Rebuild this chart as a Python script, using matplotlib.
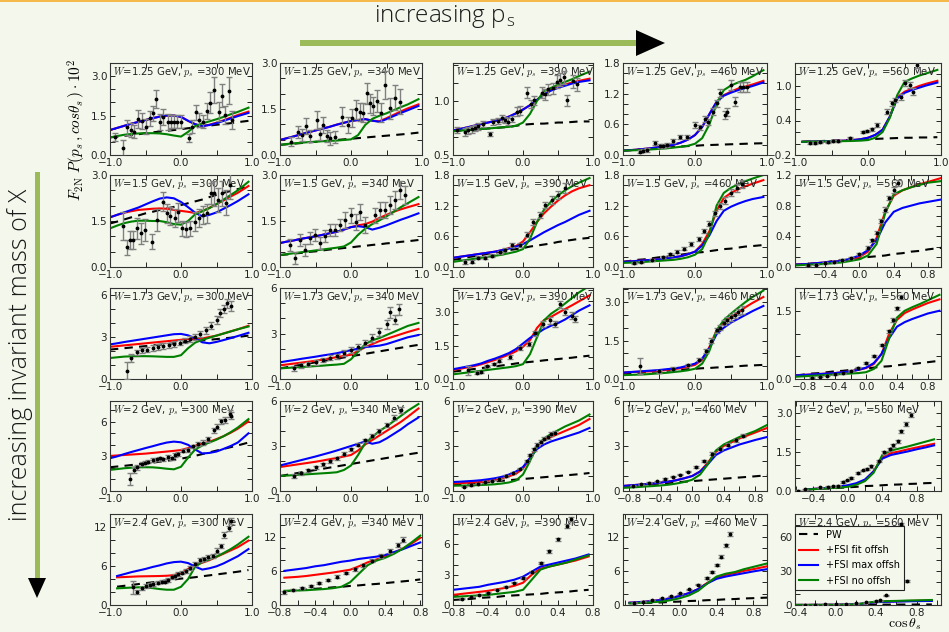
import matplotlib
matplotlib.use('Agg')
import matplotlib.pyplot as plt
from matplotlib.lines import Line2D
from matplotlib.patches import Polygon, Rectangle
from matplotlib.ticker import FixedLocator, MultipleLocator, AutoMinorLocator, FuncFormatter

# panel labels: rows = invariant mass W, columns = spectator momentum p_s
W_VALUES = ['1.25', '1.5', '1.73', '2', '2.4']
PS_VALUES = ['300', '340', '390', '460', '560']

# cos(theta_s) grids on which the model curves are tabulated
COS_A = [-1.0, -0.9, -0.8, -0.7, -0.6, -0.5, -0.4, -0.3, -0.2, -0.1, 0.0, 0.1, 0.2, 0.3, 0.4, 0.5, 0.6, 0.7, 0.8, 0.95]
COS_A9 = [-0.9, -0.8, -0.7, -0.6, -0.5, -0.4, -0.3, -0.2, -0.1, 0.0, 0.1, 0.2, 0.3, 0.4, 0.5, 0.6, 0.7, 0.8, 0.95]
COS_B = [-0.75, -0.6, -0.5, -0.4, -0.3, -0.2, -0.1, 0.0, 0.1, 0.2, 0.3, 0.4, 0.5, 0.6, 0.7, 0.8, 0.95]
COS_C = [-0.55, -0.4, -0.3, -0.2, -0.1, 0.0, 0.1, 0.2, 0.3, 0.4, 0.5, 0.6, 0.7, 0.8, 0.95]
COS_E = [-0.475, -0.4, -0.3, -0.2, -0.1, 0.0, 0.1, 0.2, 0.3, 0.4, 0.5, 0.6, 0.7, 0.8, 0.9, 1.0]
COS_F = [-0.75, -0.6, -0.5, -0.4, -0.3, -0.2, -0.1, 0.0, 0.1, 0.2, 0.3, 0.4, 0.5, 0.6, 0.7, 0.8]
COS_G = [-0.8, -0.7, -0.6, -0.5, -0.4, -0.3, -0.2, -0.1, 0.0, 0.1, 0.2, 0.3, 0.4, 0.5, 0.6, 0.75]
COS_H = [-0.4, -0.3, -0.2, -0.1, 0.0, 0.1, 0.2, 0.3, 0.4, 0.5, 0.6, 0.7, 0.8, 0.95]

curve_grid = {
    (0, 0): COS_A, (0, 1): COS_A, (0, 2): COS_A, (0, 3): COS_A, (0, 4): COS_A9,
    (1, 0): COS_A, (1, 1): COS_A, (1, 2): COS_A, (1, 3): COS_A, (1, 4): COS_B,
    (2, 0): COS_A, (2, 1): COS_A, (2, 2): COS_A, (2, 3): COS_A, (2, 4): COS_A9,
    (3, 0): COS_A, (3, 1): COS_A, (3, 2): COS_A, (3, 3): COS_A9, (3, 4): COS_E,
    (4, 0): COS_A9, (4, 1): COS_F, (4, 2): COS_G, (4, 3): COS_C, (4, 4): COS_H,
}

# plane wave
pw_curve = {
    (0, 0): [0.67, 0.70, 0.73, 0.76, 0.79, 0.83, 0.86, 0.89, 0.92, 0.95, 0.98, 1.02, 1.05, 1.08, 1.12, 1.15, 1.18, 1.21, 1.25, 1.30],
    (0, 1): [0.33, 0.35, 0.37, 0.39, 0.41, 0.43, 0.45, 0.47, 0.49, 0.51, 0.53, 0.55, 0.57, 0.59, 0.61, 0.63, 0.65, 0.67, 0.69, 0.73],
    (0, 2): [0.72, 0.725, 0.73, 0.735, 0.74, 0.745, 0.75, 0.755, 0.76, 0.77, 0.78, 0.785, 0.79, 0.79, 0.795, 0.80, 0.80, 0.805, 0.81, 0.81],
    (0, 3): [0.085, 0.095, 0.105, 0.115, 0.125, 0.135, 0.145, 0.155, 0.165, 0.175, 0.18, 0.19, 0.195, 0.2, 0.205, 0.21, 0.215, 0.22, 0.225, 0.23],
    (0, 4): [0.03, 0.035, 0.04, 0.045, 0.05, 0.055, 0.06, 0.065, 0.07, 0.075, 0.08, 0.085, 0.09, 0.095, 0.1, 0.1, 0.105, 0.105, 0.11],
    (1, 0): [1.42, 1.48, 1.55, 1.62, 1.68, 1.75, 1.80, 1.86, 1.91, 1.96, 2.02, 2.08, 2.14, 2.20, 2.28, 2.35, 2.42, 2.48, 2.54, 2.62],
    (1, 1): [0.39, 0.41, 0.44, 0.46, 0.49, 0.51, 0.54, 0.57, 0.59, 0.62, 0.64, 0.67, 0.69, 0.72, 0.74, 0.77, 0.79, 0.82, 0.84, 0.88],
    (1, 2): [0.14, 0.16, 0.19, 0.21, 0.23, 0.26, 0.28, 0.3, 0.33, 0.35, 0.37, 0.4, 0.42, 0.44, 0.46, 0.49, 0.51, 0.53, 0.55, 0.57],
    (1, 3): [0.1, 0.12, 0.14, 0.15, 0.17, 0.19, 0.2, 0.22, 0.24, 0.26, 0.28, 0.29, 0.31, 0.33, 0.35, 0.36, 0.38, 0.4, 0.41, 0.43],
    (1, 4): [0.03, 0.04, 0.05, 0.06, 0.08, 0.09, 0.1, 0.11, 0.13, 0.14, 0.15, 0.17, 0.18, 0.2, 0.21, 0.23, 0.25],
    (2, 0): [2.1, 2.15, 2.2, 2.25, 2.3, 2.35, 2.4, 2.45, 2.5, 2.55, 2.6, 2.65, 2.7, 2.75, 2.8, 2.85, 2.9, 2.95, 3.0, 3.1],
    (2, 1): [0.7, 0.78, 0.86, 0.94, 1.02, 1.1, 1.18, 1.26, 1.34, 1.42, 1.5, 1.58, 1.66, 1.74, 1.82, 1.9, 1.98, 2.06, 2.14, 2.25],
    (2, 2): [0.33, 0.37, 0.41, 0.45, 0.49, 0.53, 0.57, 0.61, 0.65, 0.7, 0.74, 0.77, 0.8, 0.84, 0.87, 0.9, 0.93, 0.96, 1.0, 1.05],
    (2, 3): [0.2, 0.22, 0.24, 0.26, 0.28, 0.3, 0.32, 0.34, 0.36, 0.38, 0.4, 0.42, 0.43, 0.45, 0.46, 0.48, 0.5, 0.52, 0.53, 0.55],
    (2, 4): [0.08, 0.1, 0.12, 0.13, 0.15, 0.17, 0.18, 0.2, 0.22, 0.23, 0.25, 0.27, 0.28, 0.3, 0.32, 0.33, 0.35, 0.37, 0.4],
    (3, 0): [2.06, 2.12, 2.18, 2.25, 2.32, 2.39, 2.46, 2.54, 2.62, 2.7, 2.8, 2.92, 3.05, 3.2, 3.35, 3.5, 3.65, 3.8, 3.95, 4.2],
    (3, 1): [1.0, 1.08, 1.16, 1.24, 1.32, 1.4, 1.48, 1.56, 1.64, 1.72, 1.8, 1.88, 1.96, 2.04, 2.12, 2.2, 2.28, 2.36, 2.44, 2.55],
    (3, 2): [0.4, 0.44, 0.48, 0.52, 0.56, 0.6, 0.64, 0.68, 0.72, 0.76, 0.8, 0.84, 0.88, 0.92, 0.96, 1.0, 1.04, 1.08, 1.12, 1.2],
    (3, 3): [0.3, 0.34, 0.38, 0.42, 0.46, 0.5, 0.54, 0.58, 0.62, 0.66, 0.7, 0.74, 0.78, 0.82, 0.86, 0.9, 0.94, 0.98, 1.05],
    (3, 4): [0.06, 0.07, 0.09, 0.1, 0.12, 0.14, 0.16, 0.19, 0.2, 0.22, 0.24, 0.25, 0.27, 0.28, 0.3, 0.31],
    (4, 0): [2.82, 2.95, 3.08, 3.22, 3.36, 3.5, 3.64, 3.78, 3.92, 4.06, 4.15, 4.28, 4.42, 4.56, 4.7, 4.84, 4.98, 5.12, 5.38],
    (4, 1): [2.4, 2.6, 2.7, 2.85, 2.95, 3.1, 3.2, 3.35, 3.45, 3.6, 3.7, 3.85, 4.0, 4.15, 4.3, 4.5],
    (4, 2): [0.5, 0.55, 0.6, 0.7, 0.75, 0.8, 0.9, 0.95, 1.0, 1.05, 1.1, 1.2, 1.25, 1.3, 1.4, 1.5],
    (4, 3): [0.3, 0.35, 0.4, 0.45, 0.55, 0.6, 0.7, 0.75, 0.85, 0.9, 1.0, 1.05, 1.15, 1.2, 1.3],
    (4, 4): [0.05, 0.08, 0.1, 0.13, 0.15, 0.18, 0.2, 0.25, 0.3, 0.33, 0.36, 0.4, 0.45, 0.5],
}

# +FSI, fitted off-shell part
fit_offsh = {
    (0, 0): [0.95, 1.03, 1.11, 1.19, 1.26, 1.33, 1.40, 1.46, 1.50, 1.50, 1.45, 1.30, 1.17, 1.10, 1.15, 1.23, 1.32, 1.42, 1.52, 1.65],
    (0, 1): [0.49, 0.55, 0.61, 0.68, 0.74, 0.80, 0.86, 0.92, 0.99, 1.05, 1.11, 1.14, 1.17, 1.12, 1.10, 1.20, 1.31, 1.42, 1.52, 1.65],
    (0, 2): [0.727, 0.74, 0.755, 0.77, 0.785, 0.80, 0.815, 0.83, 0.855, 0.885, 0.92, 0.96, 1.01, 1.06, 1.10, 1.13, 1.15, 1.17, 1.185, 1.205],
    (0, 3): [0.085, 0.095, 0.105, 0.12, 0.135, 0.155, 0.175, 0.2, 0.24, 0.3, 0.39, 0.55, 0.8, 1.04, 1.17, 1.24, 1.3, 1.34, 1.38, 1.45],
    (0, 4): [0.03, 0.033, 0.036, 0.04, 0.043, 0.047, 0.05, 0.06, 0.075, 0.1, 0.15, 0.24, 0.47, 0.8, 0.9, 0.95, 1.0, 1.04, 1.09],
    (1, 0): [1.62, 1.70, 1.77, 1.82, 1.86, 1.88, 1.90, 1.91, 1.90, 1.86, 1.83, 1.80, 1.76, 1.82, 1.93, 2.05, 2.17, 2.30, 2.42, 2.64],
    (1, 1): [0.78, 0.83, 0.87, 0.92, 0.96, 1.0, 1.05, 1.1, 1.15, 1.22, 1.3, 1.36, 1.4, 1.48, 1.6, 1.7, 1.8, 1.88, 1.95, 2.05],
    (1, 2): [0.18, 0.2, 0.22, 0.24, 0.26, 0.28, 0.3, 0.33, 0.37, 0.41, 0.5, 0.68, 0.88, 1.05, 1.18, 1.3, 1.4, 1.48, 1.54, 1.6],
    (1, 3): [0.1, 0.11, 0.12, 0.13, 0.14, 0.15, 0.17, 0.19, 0.21, 0.25, 0.3, 0.45, 0.7, 1.1, 1.35, 1.45, 1.52, 1.58, 1.63, 1.7],
    (1, 4): [0.03, 0.04, 0.05, 0.06, 0.07, 0.08, 0.1, 0.13, 0.2, 0.38, 0.72, 0.93, 1.0, 1.04, 1.08, 1.11, 1.16],
    (2, 0): [2.3, 2.35, 2.4, 2.45, 2.5, 2.55, 2.6, 2.65, 2.7, 2.75, 2.8, 2.85, 2.85, 2.9, 3.0, 3.1, 3.25, 3.4, 3.55, 3.8],
    (2, 1): [0.9, 0.96, 1.02, 1.08, 1.14, 1.2, 1.28, 1.36, 1.44, 1.52, 1.6, 1.85, 2.1, 2.3, 2.5, 2.65, 2.8, 2.95, 3.1, 3.3],
    (2, 2): [0.41, 0.46, 0.52, 0.58, 0.66, 0.76, 0.86, 0.98, 1.1, 1.25, 1.45, 1.75, 2.3, 2.65, 2.8, 2.98, 3.15, 3.32, 3.5, 3.77],
    (2, 3): [0.25, 0.27, 0.28, 0.29, 0.3, 0.32, 0.35, 0.38, 0.42, 0.48, 0.55, 0.75, 1.25, 1.9, 2.2, 2.4, 2.6, 2.8, 2.97, 3.2],
    (2, 4): [0.08, 0.09, 0.1, 0.11, 0.12, 0.13, 0.15, 0.17, 0.2, 0.24, 0.33, 0.55, 1.0, 1.3, 1.45, 1.53, 1.6, 1.67, 1.75],
    (3, 0): [3.04, 3.08, 3.12, 3.16, 3.2, 3.24, 3.3, 3.36, 3.42, 3.48, 3.55, 3.72, 3.92, 4.1, 4.27, 4.5, 4.75, 5.05, 5.4, 6.03],
    (3, 1): [1.6, 1.67, 1.74, 1.81, 1.88, 1.95, 2.03, 2.12, 2.2, 2.3, 2.4, 2.7, 3.1, 3.4, 3.7, 4.0, 4.3, 4.6, 4.95, 5.5],
    (3, 2): [0.5, 0.52, 0.55, 0.58, 0.6, 0.66, 0.74, 0.85, 0.98, 1.15, 1.5, 2.2, 3.0, 3.4, 3.6, 3.8, 4.0, 4.2, 4.4, 4.8],
    (3, 3): [0.33, 0.37, 0.41, 0.45, 0.5, 0.56, 0.63, 0.72, 0.85, 1.0, 1.3, 1.9, 2.6, 3.0, 3.25, 3.5, 3.7, 3.9, 4.2],
    (3, 4): [0.06, 0.08, 0.1, 0.12, 0.15, 0.2, 0.27, 0.42, 0.76, 1.28, 1.45, 1.52, 1.6, 1.67, 1.74, 1.81],
    (4, 0): [4.26, 4.3, 4.35, 4.4, 4.42, 4.44, 4.46, 4.5, 4.6, 4.9, 5.55, 6.2, 6.5, 6.9, 7.4, 7.9, 8.4, 8.9, 9.9],
    (4, 1): [4.8, 4.95, 5.1, 5.3, 5.5, 5.7, 5.95, 6.2, 6.8, 7.5, 8.0, 8.5, 9.2, 9.9, 10.8, 11.8],
    (4, 2): [1.0, 1.1, 1.2, 1.3, 1.4, 1.55, 1.7, 1.9, 2.2, 3.0, 3.6, 3.8, 4.0, 4.2, 4.4, 4.8],
    (4, 3): [0.4, 0.55, 0.7, 0.9, 1.2, 1.6, 2.1, 2.8, 3.9, 4.8, 5.3, 5.6, 6.0, 6.3, 6.8],
    (4, 4): [0.05, 0.07, 0.1, 0.15, 0.2, 0.35, 0.6, 1.5, 2.6, 3.0, 3.3, 3.5, 3.7, 4.0],
}

# +FSI, maximal off-shell part
max_offsh = {
    (0, 0): [0.95, 1.03, 1.11, 1.19, 1.26, 1.33, 1.40, 1.46, 1.50, 1.50, 1.45, 1.30, 1.17, 1.10, 1.14, 1.21, 1.30, 1.39, 1.48, 1.60],
    (0, 1): [0.49, 0.55, 0.61, 0.68, 0.74, 0.80, 0.86, 0.92, 0.99, 1.05, 1.11, 1.14, 1.17, 1.12, 1.08, 1.17, 1.27, 1.37, 1.46, 1.60],
    (0, 2): [0.727, 0.74, 0.755, 0.77, 0.785, 0.80, 0.815, 0.83, 0.855, 0.885, 0.92, 0.96, 1.01, 1.06, 1.095, 1.12, 1.14, 1.16, 1.175, 1.19],
    (0, 3): [0.085, 0.095, 0.105, 0.12, 0.135, 0.155, 0.175, 0.2, 0.24, 0.3, 0.39, 0.55, 0.8, 1.04, 1.16, 1.22, 1.27, 1.31, 1.35, 1.42],
    (0, 4): [0.03, 0.033, 0.036, 0.04, 0.043, 0.047, 0.05, 0.06, 0.075, 0.1, 0.15, 0.24, 0.47, 0.78, 0.88, 0.93, 0.97, 1.01, 1.06],
    (1, 0): [1.62, 1.70, 1.78, 1.86, 1.94, 2.04, 2.14, 2.23, 2.27, 2.24, 2.12, 1.95, 1.77, 1.65, 1.70, 1.78, 1.90, 2.02, 2.15, 2.37],
    (1, 1): [0.78, 0.83, 0.87, 0.92, 0.96, 1.0, 1.05, 1.1, 1.15, 1.22, 1.3, 1.33, 1.3, 1.22, 1.28, 1.36, 1.45, 1.54, 1.62, 1.75],
    (1, 2): [0.18, 0.2, 0.22, 0.24, 0.26, 0.28, 0.3, 0.33, 0.36, 0.4, 0.45, 0.52, 0.6, 0.68, 0.75, 0.82, 0.88, 0.95, 1.02, 1.1],
    (1, 3): [0.1, 0.11, 0.12, 0.13, 0.14, 0.15, 0.17, 0.19, 0.21, 0.25, 0.3, 0.42, 0.62, 0.9, 1.1, 1.18, 1.24, 1.29, 1.33, 1.37],
    (1, 4): [0.03, 0.04, 0.05, 0.06, 0.07, 0.08, 0.11, 0.15, 0.22, 0.35, 0.58, 0.72, 0.77, 0.8, 0.83, 0.85, 0.88],
    (2, 0): [2.47, 2.55, 2.64, 2.72, 2.8, 2.88, 2.96, 3.04, 3.12, 3.2, 3.22, 3.12, 2.9, 2.62, 2.55, 2.65, 2.78, 2.92, 3.07, 3.3],
    (2, 1): [1.1, 1.18, 1.25, 1.33, 1.4, 1.47, 1.55, 1.62, 1.7, 1.8, 1.9, 2.0, 2.1, 2.15, 2.2, 2.3, 2.45, 2.6, 2.75, 2.9],
    (2, 2): [0.44, 0.5, 0.56, 0.62, 0.7, 0.82, 0.92, 1.04, 1.17, 1.35, 1.6, 1.85, 2.05, 2.25, 2.4, 2.52, 2.68, 2.88, 3.08, 3.32],
    (2, 3): [0.25, 0.27, 0.29, 0.31, 0.33, 0.35, 0.38, 0.41, 0.45, 0.52, 0.6, 0.8, 1.2, 1.75, 2.0, 2.2, 2.35, 2.5, 2.65, 2.85],
    (2, 4): [0.08, 0.09, 0.1, 0.11, 0.12, 0.13, 0.15, 0.17, 0.2, 0.25, 0.35, 0.55, 0.9, 1.15, 1.25, 1.32, 1.38, 1.44, 1.5],
    (3, 0): [2.84, 3.0, 3.2, 3.38, 3.55, 3.72, 3.88, 4.05, 4.2, 4.28, 4.22, 4.0, 3.6, 3.25, 3.3, 3.42, 3.65, 3.9, 4.2, 5.0],
    (3, 1): [1.7, 1.82, 1.94, 2.06, 2.18, 2.3, 2.43, 2.56, 2.7, 2.85, 3.0, 3.15, 3.3, 3.15, 3.25, 3.5, 3.8, 4.1, 4.45, 4.9],
    (3, 2): [0.6, 0.62, 0.65, 0.68, 0.72, 0.78, 0.85, 0.95, 1.1, 1.3, 1.6, 2.2, 2.8, 3.1, 3.3, 3.45, 3.6, 3.75, 3.9, 4.2],
    (3, 3): [0.33, 0.37, 0.41, 0.45, 0.5, 0.56, 0.63, 0.72, 0.85, 1.0, 1.3, 1.8, 2.4, 2.7, 2.9, 3.1, 3.25, 3.4, 3.6],
    (3, 4): [0.06, 0.08, 0.1, 0.13, 0.17, 0.22, 0.3, 0.44, 0.75, 1.24, 1.38, 1.45, 1.52, 1.6, 1.67, 1.75],
    (4, 0): [4.46, 4.75, 5.05, 5.3, 5.55, 5.85, 6.1, 6.4, 6.6, 6.67, 6.45, 5.9, 5.45, 5.65, 5.95, 6.4, 6.95, 7.5, 8.6],
    (4, 1): [6.0, 6.3, 6.5, 6.8, 7.0, 7.3, 7.6, 7.8, 8.1, 8.3, 8.5, 8.8, 9.3, 9.8, 10.4, 11.0],
    (4, 2): [1.5, 1.6, 1.7, 1.8, 2.0, 2.15, 2.3, 2.5, 2.8, 3.3, 3.8, 4.0, 4.2, 4.4, 4.6, 5.0],
    (4, 3): [0.4, 0.55, 0.7, 0.9, 1.2, 1.6, 2.1, 2.8, 3.8, 4.6, 5.0, 5.3, 5.6, 5.9, 6.3],
    (4, 4): [0.05, 0.07, 0.1, 0.15, 0.2, 0.35, 0.6, 1.5, 2.5, 2.8, 3.0, 3.2, 3.4, 3.6],
}

# +FSI, no off-shell part
no_offsh = {
    (0, 0): [0.67, 0.72, 0.77, 0.80, 0.82, 0.83, 0.83, 0.82, 0.79, 0.74, 0.70, 0.88, 1.10, 1.20, 1.28, 1.36, 1.45, 1.55, 1.64, 1.80],
    (0, 1): [0.33, 0.36, 0.38, 0.40, 0.42, 0.43, 0.45, 0.46, 0.47, 0.49, 0.51, 0.65, 0.98, 1.18, 1.28, 1.36, 1.46, 1.56, 1.65, 1.82],
    (0, 2): [0.72, 0.725, 0.73, 0.735, 0.74, 0.745, 0.75, 0.755, 0.76, 0.77, 0.80, 0.88, 1.0, 1.09, 1.12, 1.15, 1.175, 1.2, 1.23, 1.27],
    (0, 3): [0.085, 0.09, 0.095, 0.1, 0.11, 0.12, 0.13, 0.145, 0.16, 0.18, 0.22, 0.33, 0.6, 1.0, 1.27, 1.36, 1.42, 1.47, 1.54, 1.66],
    (0, 4): [0.03, 0.032, 0.034, 0.036, 0.038, 0.04, 0.042, 0.045, 0.05, 0.06, 0.1, 0.2, 0.45, 0.84, 1.07, 1.13, 1.18, 1.22, 1.28],
    (1, 0): [1.26, 1.35, 1.43, 1.48, 1.51, 1.51, 1.50, 1.50, 1.46, 1.40, 1.38, 1.50, 1.72, 1.82, 1.92, 2.05, 2.20, 2.35, 2.50, 2.78],
    (1, 1): [0.39, 0.42, 0.45, 0.48, 0.51, 0.54, 0.57, 0.6, 0.63, 0.67, 0.8, 1.05, 1.25, 1.4, 1.52, 1.65, 1.8, 1.95, 2.08, 2.28],
    (1, 2): [0.1, 0.12, 0.14, 0.16, 0.18, 0.2, 0.22, 0.24, 0.27, 0.3, 0.35, 0.55, 0.88, 1.12, 1.28, 1.4, 1.5, 1.58, 1.65, 1.74],
    (1, 3): [0.08, 0.085, 0.09, 0.1, 0.11, 0.12, 0.13, 0.14, 0.16, 0.19, 0.24, 0.35, 0.65, 1.2, 1.45, 1.55, 1.62, 1.68, 1.73, 1.8],
    (1, 4): [0.02, 0.03, 0.035, 0.04, 0.05, 0.06, 0.08, 0.1, 0.15, 0.3, 0.7, 0.95, 1.0, 1.04, 1.07, 1.1, 1.12],
    (2, 0): [1.5, 1.55, 1.6, 1.62, 1.63, 1.63, 1.62, 1.6, 1.58, 1.58, 1.7, 2.2, 2.6, 2.8, 2.95, 3.1, 3.25, 3.4, 3.55, 3.75],
    (2, 1): [0.7, 0.73, 0.76, 0.79, 0.82, 0.85, 0.88, 0.92, 0.95, 1.0, 1.3, 1.8, 2.3, 2.55, 2.7, 2.9, 3.1, 3.3, 3.5, 3.7],
    (2, 2): [0.21, 0.25, 0.29, 0.33, 0.37, 0.41, 0.45, 0.49, 0.53, 0.58, 0.67, 1.12, 1.88, 2.64, 2.94, 3.15, 3.4, 3.65, 3.9, 4.2],
    (2, 3): [0.15, 0.16, 0.17, 0.18, 0.2, 0.22, 0.24, 0.27, 0.3, 0.34, 0.4, 0.6, 1.1, 1.9, 2.3, 2.55, 2.78, 3.0, 3.2, 3.45],
    (2, 4): [0.05, 0.06, 0.07, 0.08, 0.09, 0.1, 0.11, 0.12, 0.13, 0.15, 0.22, 0.4, 0.9, 1.35, 1.5, 1.58, 1.65, 1.73, 1.85],
    (3, 0): [1.83, 1.9, 1.97, 2.02, 2.05, 2.06, 2.05, 2.0, 1.93, 1.88, 2.1, 2.9, 3.6, 3.95, 4.2, 4.45, 4.75, 5.1, 5.5, 6.23],
    (3, 1): [1.0, 1.03, 1.06, 1.09, 1.12, 1.15, 1.18, 1.21, 1.25, 1.4, 1.7, 2.4, 3.2, 3.6, 4.0, 4.3, 4.65, 5.0, 5.35, 5.8],
    (3, 2): [0.35, 0.36, 0.37, 0.38, 0.4, 0.42, 0.45, 0.5, 0.57, 0.7, 1.1, 2.0, 3.0, 3.5, 3.8, 4.05, 4.3, 4.5, 4.7, 5.1],
    (3, 3): [0.2, 0.23, 0.26, 0.3, 0.33, 0.37, 0.42, 0.5, 0.6, 0.75, 1.1, 1.8, 2.7, 3.1, 3.35, 3.6, 3.8, 4.0, 4.4],
    (3, 4): [0.06, 0.07, 0.09, 0.11, 0.13, 0.16, 0.24, 0.38, 0.7, 1.38, 1.55, 1.63, 1.71, 1.8, 1.89, 1.98],
    (4, 0): [2.56, 2.62, 2.68, 2.72, 2.7, 2.6, 2.45, 2.35, 2.35, 2.8, 4.0, 5.9, 6.6, 7.0, 7.45, 8.0, 8.6, 9.3, 10.5],
    (4, 1): [2.5, 2.55, 2.6, 2.7, 2.8, 2.95, 3.2, 4.0, 5.5, 7.0, 7.8, 8.3, 9.0, 9.9, 11.0, 12.2],
    (4, 2): [0.8, 0.85, 0.9, 0.95, 1.0, 1.1, 1.2, 1.3, 1.5, 2.5, 3.5, 3.8, 4.0, 4.2, 4.5, 4.9],
    (4, 3): [0.3, 0.4, 0.5, 0.6, 0.85, 1.2, 1.7, 2.5, 3.8, 5.0, 5.5, 5.8, 6.3, 6.7, 7.3],
    (4, 4): [0.02, 0.04, 0.06, 0.08, 0.1, 0.25, 0.5, 1.8, 3.0, 3.4, 3.6, 3.9, 4.1, 4.4],
}

# measured points
data_cos = {
    (0, 0): [-0.93, -0.81, -0.76, -0.71, -0.66, -0.61, -0.55, -0.49, -0.44, -0.40, -0.35, -0.29, -0.25, -0.19, -0.14, -0.10, -0.05, 0.00, 0.11, 0.16, 0.21, 0.26, 0.31, 0.36, 0.41, 0.47, 0.53, 0.58, 0.62, 0.67, 0.72],
    (0, 1): [-0.84, -0.74, -0.69, -0.64, -0.58, -0.48, -0.44, -0.39, -0.34, -0.30, -0.23, -0.13, -0.04, 0.01, 0.07, 0.13, 0.17, 0.22, 0.27, 0.31, 0.36, 0.42, 0.48, 0.55, 0.62, 0.69],
    (0, 2): [-0.948, -0.829, -0.781, -0.733, -0.686, -0.638, -0.567, -0.471, -0.424, -0.352, -0.305, -0.257, -0.21, -0.162, -0.09, -0.043, 0.062, 0.11, 0.157, 0.267, 0.314, 0.362, 0.424, 0.481, 0.529, 0.586, 0.633, 0.719, 0.767],
    (0, 3): [-0.764, -0.718, -0.671, -0.556, -0.486, -0.44, -0.394, -0.301, -0.208, -0.116, 0.0, 0.069, 0.139, 0.185, 0.255, 0.301, 0.347, 0.417, 0.449, 0.495, 0.556, 0.625, 0.671, 0.718],
    (0, 4): [-0.795, -0.726, -0.658, -0.543, -0.475, -0.406, -0.247, -0.064, -0.009, 0.05, 0.119, 0.256, 0.324, 0.37, 0.447, 0.507, 0.575, 0.621, 0.667],
    (1, 0): [-0.812, -0.765, -0.718, -0.671, -0.615, -0.568, -0.507, -0.413, -0.343, -0.258, -0.202, -0.155, -0.085, -0.038, 0.009, 0.07, 0.127, 0.197, 0.258, 0.315, 0.362, 0.418, 0.465, 0.526, 0.582, 0.629, 0.69],
    (1, 1): [-0.86, -0.79, -0.72, -0.65, -0.58, -0.51, -0.44, -0.37, -0.30, -0.23, -0.15, -0.08, 0.0, 0.07, 0.13, 0.20, 0.34, 0.41, 0.48, 0.55, 0.62, 0.69, 0.76],
    (1, 2): [-0.83, -0.73, -0.64, -0.54, -0.44, -0.33, -0.26, -0.16, -0.04, 0.06, 0.14, 0.24, 0.31, 0.41, 0.5, 0.6],
    (1, 3): [-0.85, -0.75, -0.6, -0.45, -0.35, -0.25, -0.15, -0.05, 0.05, 0.12, 0.2, 0.28, 0.35, 0.42, 0.5, 0.58, 0.65],
    (1, 4): [-0.6, -0.5, -0.4, -0.3, -0.2, -0.1, 0.0, 0.1, 0.15, 0.2, 0.25, 0.3, 0.35, 0.4, 0.45],
    (2, 0): [-0.76, -0.7, -0.62, -0.55, -0.48, -0.4, -0.32, -0.25, -0.17, -0.1, -0.02, 0.05, 0.12, 0.2, 0.27, 0.35, 0.42, 0.5, 0.55, 0.6, 0.65, 0.7],
    (2, 1): [-0.8, -0.7, -0.6, -0.5, -0.4, -0.3, -0.2, -0.1, 0.0, 0.1, 0.2, 0.3, 0.4, 0.5, 0.55, 0.62, 0.68],
    (2, 2): [-0.78, -0.66, -0.6, -0.52, -0.42, -0.35, -0.19, -0.04, 0.08, 0.17, 0.29, 0.39, 0.46, 0.53, 0.6, 0.7, 0.74],
    (2, 3): [-0.76, -0.5, -0.3, -0.1, 0.05, 0.15, 0.22, 0.3, 0.35, 0.4, 0.45, 0.5, 0.55, 0.6, 0.65],
    (2, 4): [-0.7, -0.6, -0.5, -0.4, -0.3, -0.2, -0.1, 0.0, 0.1, 0.2, 0.3, 0.35, 0.4, 0.45],
    (3, 0): [-0.72, -0.66, -0.62, -0.55, -0.51, -0.46, -0.39, -0.34, -0.30, -0.25, -0.18, -0.13, -0.08, -0.04, 0.03, 0.10, 0.17, 0.24, 0.31, 0.38, 0.46, 0.51, 0.57, 0.62, 0.69, 0.71],
    (3, 1): [-0.8, -0.7, -0.6, -0.5, -0.4, -0.3, -0.2, -0.1, 0.0, 0.1, 0.2, 0.3, 0.4, 0.5, 0.6, 0.7],
    (3, 2): [-0.85, -0.75, -0.65, -0.55, -0.45, -0.35, -0.25, -0.15, -0.05, 0.05, 0.1, 0.15, 0.2, 0.25, 0.3, 0.35, 0.4, 0.45],
    (3, 3): [-0.75, -0.65, -0.55, -0.45, -0.35, -0.25, -0.15, -0.05, 0.05, 0.15, 0.25, 0.35, 0.45, 0.55, 0.65],
    (3, 4): [-0.57, -0.49, -0.32, -0.23, -0.17, -0.11, -0.05, -0.01, 0.04, 0.12, 0.18, 0.22, 0.27, 0.36, 0.42, 0.49, 0.52, 0.58, 0.62, 0.67, 0.73],
    (4, 0): [-0.67, -0.62, -0.55, -0.49, -0.44, -0.39, -0.33, -0.27, -0.23, -0.18, -0.13, -0.08, -0.04, 0.01, 0.07, 0.13, 0.20, 0.27, 0.32, 0.38, 0.45, 0.50, 0.57, 0.61, 0.67, 0.71],
    (4, 1): [-0.75, -0.65, -0.55, -0.45, -0.35, -0.25, -0.15, -0.05, 0.05, 0.15, 0.25, 0.35, 0.45, 0.55, 0.6],
    (4, 2): [-0.7, -0.6, -0.5, -0.4, -0.3, -0.2, -0.1, 0.0, 0.1, 0.2, 0.3, 0.4, 0.5, 0.55],
    (4, 3): [-0.5, -0.4, -0.3, -0.2, -0.1, 0.0, 0.1, 0.2, 0.3, 0.35, 0.4, 0.45, 0.5, 0.55],
    (4, 4): [-0.3, -0.2, -0.1, 0.0, 0.1, 0.2, 0.3, 0.4, 0.44, 0.5, 0.65, 0.7],
}
data_val = {
    (0, 0): [0.70, 0.28, 1.05, 0.95, 0.89, 1.37, 1.29, 1.08, 1.39, 1.58, 2.12, 1.27, 1.46, 1.27, 1.27, 1.27, 1.27, 1.27, 0.63, 1.08, 1.62, 1.33, 1.27, 1.67, 1.99, 2.47, 1.65, 2.26, 1.52, 2.45, 1.33],
    (0, 1): [0.43, 0.76, 0.65, 0.95, 0.62, 1.14, 0.68, 0.98, 0.62, 0.54, 0.58, 1.25, 0.98, 1.20, 1.49, 1.41, 1.38, 2.01, 1.68, 1.60, 1.76, 1.38, 2.28, 1.52, 1.87, 1.74],
    (0, 2): [0.733, 0.712, 0.727, 0.736, 0.748, 0.764, 0.788, 0.697, 0.803, 0.812, 0.839, 0.824, 0.809, 0.833, 0.9, 0.909, 1.076, 0.97, 1.006, 1.076, 1.06, 1.106, 1.115, 1.176, 1.197, 1.218, 1.006, 1.182, 1.152],
    (0, 3): [0.065, 0.085, 0.098, 0.228, 0.176, 0.176, 0.196, 0.28, 0.346, 0.359, 0.587, 0.541, 0.698, 0.652, 0.848, 1.011, 1.207, 0.783, 0.848, 1.37, 1.044, 1.337, 1.337, 1.337],
    (0, 4): [0.003, 0.014, 0.02, 0.032, 0.043, 0.043, 0.101, 0.206, 0.217, 0.246, 0.322, 0.554, 0.699, 0.757, 0.814, 1.046, 1.017, 0.901, 1.365],
    (1, 0): [1.34, 0.64, 0.88, 0.88, 1.26, 1.10, 1.21, 0.83, 1.53, 2.13, 1.75, 1.66, 1.59, 1.78, 1.26, 1.23, 1.26, 1.48, 1.59, 1.70, 1.75, 2.40, 2.40, 2.18, 2.40, 2.10, 2.67],
    (1, 1): [0.72, 0.29, 0.88, 0.55, 0.94, 1.04, 0.78, 1.0, 1.21, 1.21, 1.37, 1.53, 1.69, 1.47, 1.79, 1.37, 1.69, 1.86, 1.86, 2.02, 2.18, 2.51, 2.35],
    (1, 2): [0.1, 0.1, 0.18, 0.18, 0.22, 0.29, 0.33, 0.43, 0.43, 0.63, 0.88, 1.02, 1.21, 1.31, 1.41, 1.55],
    (1, 3): [0.08, 0.1, 0.14, 0.2, 0.25, 0.3, 0.36, 0.45, 0.55, 0.7, 0.85, 1.05, 1.2, 1.3, 1.45, 1.55, 1.62],
    (1, 4): [0.02, 0.03, 0.05, 0.06, 0.09, 0.12, 0.17, 0.25, 0.35, 0.45, 0.6, 0.75, 0.9, 1.0, 1.1],
    (2, 0): [0.6, 1.5, 1.9, 2.05, 2.1, 2.2, 2.3, 2.35, 2.4, 2.5, 2.6, 2.75, 2.85, 3.0, 3.2, 3.5, 3.8, 4.2, 4.7, 5.0, 5.4, 5.2],
    (2, 1): [0.7, 0.9, 1.0, 1.1, 1.25, 1.4, 1.5, 1.7, 1.9, 2.1, 2.4, 2.7, 3.1, 3.6, 4.4, 3.9, 4.6],
    (2, 2): [0.39, 0.29, 0.33, 0.59, 0.67, 0.82, 1.0, 1.39, 1.58, 2.06, 2.48, 2.64, 2.48, 3.36, 3.02, 2.86, 2.71],
    (2, 3): [0.5, 0.3, 0.4, 0.55, 0.75, 1.1, 1.5, 1.9, 2.0, 2.2, 2.3, 2.4, 2.5, 2.6, 2.7],
    (2, 4): [0.03, 0.05, 0.07, 0.1, 0.13, 0.18, 0.25, 0.35, 0.5, 0.75, 1.05, 1.3, 1.55, 1.8],
    (3, 0): [1.04, 1.83, 2.06, 2.35, 2.46, 2.55, 2.70, 2.75, 2.84, 2.75, 2.93, 2.84, 3.13, 3.22, 3.51, 3.57, 3.86, 4.09, 4.20, 4.49, 5.25, 5.59, 6.03, 6.17, 6.70, 6.52],
    (3, 1): [1.0, 1.2, 1.4, 1.6, 1.8, 2.0, 2.2, 2.5, 2.8, 3.1, 3.4, 3.7, 4.0, 4.4, 4.9, 5.4],
    (3, 2): [0.3, 0.4, 0.5, 0.6, 0.7, 0.8, 1.0, 1.2, 1.5, 2.0, 2.4, 2.8, 3.1, 3.3, 3.5, 3.6, 3.8, 3.9],
    (3, 3): [0.35, 0.45, 0.55, 0.65, 0.8, 0.95, 1.1, 1.3, 1.6, 2.0, 2.5, 2.8, 3.1, 3.4, 3.7],
    (3, 4): [0.0, 0.06, 0.14, 0.16, 0.19, 0.21, 0.35, 0.41, 0.5, 0.69, 0.79, 0.85, 0.94, 1.16, 1.48, 1.6, 1.75, 1.91, 2.29, 2.56, 2.91],
    (4, 0): [2.72, 2.05, 2.56, 2.92, 3.08, 3.23, 3.44, 3.59, 3.59, 3.85, 4.26, 4.46, 4.77, 4.97, 5.28, 5.64, 6.31, 6.92, 7.03, 7.33, 7.54, 8.36, 9.08, 10.77, 11.79, 12.97],
    (4, 1): [2.2, 2.6, 3.0, 3.4, 3.9, 4.4, 5.0, 5.6, 6.3, 7.0, 7.8, 8.6, 9.5, 10.5, 11.5],
    (4, 2): [0.6, 0.8, 1.0, 1.2, 1.5, 1.8, 2.2, 2.7, 3.3, 4.2, 5.3, 6.5, 7.8, 8.5],
    (4, 3): [0.4, 0.6, 0.9, 1.2, 1.6, 2.1, 2.8, 3.6, 4.8, 5.8, 7.0, 8.5, 10.5, 12.5],
    (4, 4): [0.2, 0.3, 0.5, 0.7, 1.0, 1.5, 2.3, 3.5, 4.3, 8.7, 71.0, 21.2],
}
data_err = {
    (0, 0): [0.15, 0.3, 0.3, 0.25, 0.25, 0.35, 0.3, 0.3, 0.3, 0.3, 0.35, 0.3, 0.3, 0.3, 0.25, 0.25, 0.25, 0.25, 0.15, 0.25, 0.3, 0.25, 0.25, 0.3, 0.4, 0.5, 0.35, 0.45, 0.35, 0.5, 0.35],
    (0, 1): [0.15, 0.2, 0.2, 0.25, 0.2, 0.3, 0.2, 0.25, 0.2, 0.2, 0.2, 0.3, 0.25, 0.3, 0.3, 0.3, 0.3, 0.35, 0.3, 0.3, 0.35, 0.3, 0.45, 0.35, 0.4, 0.4],
    (0, 2): [0.03, 0.04, 0.03, 0.03, 0.03, 0.03, 0.03, 0.02, 0.03, 0.03, 0.03, 0.03, 0.03, 0.03, 0.04, 0.04, 0.05, 0.04, 0.04, 0.05, 0.05, 0.05, 0.05, 0.06, 0.06, 0.06, 0.05, 0.06, 0.06],
    (0, 3): [0.03, 0.03, 0.03, 0.04, 0.03, 0.03, 0.03, 0.04, 0.04, 0.04, 0.05, 0.05, 0.06, 0.06, 0.07, 0.07, 0.08, 0.08, 0.08, 0.1, 0.09, 0.1, 0.1, 0.1],
    (0, 4): [0.015, 0.015, 0.015, 0.015, 0.015, 0.015, 0.02, 0.02, 0.02, 0.025, 0.03, 0.04, 0.04, 0.04, 0.05, 0.05, 0.06, 0.06, 0.06],
    (1, 0): [0.45, 0.25, 0.3, 0.3, 0.35, 0.35, 0.35, 0.25, 0.35, 0.3, 0.3, 0.3, 0.3, 0.3, 0.25, 0.25, 0.25, 0.3, 0.3, 0.3, 0.3, 0.35, 0.4, 0.4, 0.4, 0.4, 0.45],
    (1, 1): [0.2, 0.2, 0.2, 0.2, 0.2, 0.2, 0.2, 0.2, 0.2, 0.2, 0.2, 0.25, 0.25, 0.25, 0.25, 0.25, 0.25, 0.25, 0.25, 0.3, 0.3, 0.3, 0.3],
    (1, 2): [0.04, 0.03, 0.03, 0.03, 0.03, 0.03, 0.04, 0.04, 0.04, 0.05, 0.05, 0.06, 0.06, 0.07, 0.08, 0.1],
    (1, 3): [0.02, 0.02, 0.02, 0.02, 0.03, 0.03, 0.03, 0.03, 0.04, 0.04, 0.05, 0.05, 0.06, 0.06, 0.07, 0.08, 0.08],
    (1, 4): [0.01, 0.01, 0.01, 0.01, 0.01, 0.015, 0.015, 0.02, 0.02, 0.02, 0.03, 0.03, 0.03, 0.04, 0.04],
    (2, 0): [0.6, 0.3, 0.2, 0.2, 0.2, 0.2, 0.2, 0.2, 0.2, 0.2, 0.2, 0.2, 0.2, 0.2, 0.2, 0.25, 0.25, 0.3, 0.3, 0.3, 0.35, 0.35],
    (2, 1): [0.15, 0.15, 0.15, 0.15, 0.15, 0.15, 0.15, 0.2, 0.2, 0.2, 0.2, 0.25, 0.25, 0.3, 0.35, 0.3, 0.35],
    (2, 2): [0.2, 0.05, 0.05, 0.06, 0.06, 0.07, 0.08, 0.1, 0.1, 0.12, 0.13, 0.14, 0.14, 0.15, 0.15, 0.15, 0.15],
    (2, 3): [0.3, 0.05, 0.05, 0.05, 0.06, 0.07, 0.08, 0.1, 0.1, 0.1, 0.1, 0.12, 0.12, 0.12, 0.15],
    (2, 4): [0.01, 0.01, 0.01, 0.01, 0.01, 0.015, 0.015, 0.02, 0.02, 0.03, 0.03, 0.04, 0.04, 0.05],
    (3, 0): [0.5, 0.25, 0.2, 0.15, 0.15, 0.15, 0.15, 0.15, 0.15, 0.15, 0.15, 0.15, 0.15, 0.15, 0.15, 0.15, 0.15, 0.15, 0.2, 0.2, 0.2, 0.2, 0.25, 0.25, 0.3, 0.3],
    (3, 1): [0.15, 0.1, 0.1, 0.1, 0.1, 0.1, 0.1, 0.1, 0.1, 0.1, 0.1, 0.12, 0.12, 0.15, 0.15, 0.2],
    (3, 2): [0.05, 0.05, 0.05, 0.05, 0.05, 0.05, 0.05, 0.06, 0.06, 0.08, 0.08, 0.1, 0.1, 0.1, 0.1, 0.1, 0.12, 0.12],
    (3, 3): [0.03, 0.03, 0.03, 0.04, 0.04, 0.04, 0.05, 0.05, 0.06, 0.07, 0.08, 0.09, 0.1, 0.1, 0.12],
    (3, 4): [0.02, 0.02, 0.02, 0.02, 0.02, 0.02, 0.03, 0.03, 0.03, 0.03, 0.03, 0.04, 0.04, 0.04, 0.05, 0.05, 0.05, 0.06, 0.06, 0.07, 0.08],
    (4, 0): [1.0, 0.3, 0.25, 0.25, 0.25, 0.25, 0.25, 0.25, 0.25, 0.25, 0.25, 0.25, 0.25, 0.25, 0.3, 0.3, 0.3, 0.3, 0.3, 0.3, 0.3, 0.35, 0.35, 0.4, 0.4, 0.45],
    (4, 1): [0.3, 0.2, 0.2, 0.2, 0.2, 0.2, 0.2, 0.2, 0.25, 0.25, 0.3, 0.3, 0.3, 0.35, 0.4],
    (4, 2): [0.05, 0.05, 0.05, 0.05, 0.06, 0.06, 0.07, 0.08, 0.1, 0.1, 0.12, 0.15, 0.2, 0.2],
    (4, 3): [0.05, 0.05, 0.05, 0.05, 0.07, 0.08, 0.1, 0.12, 0.15, 0.2, 0.2, 0.25, 0.3, 0.4],
    (4, 4): [0.1, 0.1, 0.1, 0.1, 0.15, 0.2, 0.2, 0.3, 0.4, 0.5, 1.0, 0.8],
}

# axis ranges and ticks per panel (x range is [-1, 1] unless listed)
x_range = {(1, 4): (-0.75, 0.95), (2, 4): (-0.92, 0.97), (3, 3): (-0.88, 0.95),
           (3, 4): (-0.61, 1.08), (4, 1): (-0.8, 0.82), (4, 2): (-0.8, 0.8),
           (4, 3): (-0.62, 0.95), (4, 4): (-0.4, 1.04)}
y_range = [[(0, 3.5), (0, 3.0), (0.5, 1.35), (0, 1.8), (-0.2, 1.4)],
           [(0, 3.0), (0, 3.0), (0, 1.8), (0, 1.8), (0, 1.2)],
           [(0, 6.5), (0, 6.0), (0, 4.1), (0, 3.55), (0, 2.0)],
           [(0, 7.8), (0, 6.0), (0, 6.0), (0, 6.0), (0, 3.45)],
           [(0, 14), (0, 16), (0, 9), (0, 16), (0, 80)]]
y_ticks = [[[0, 1.5, 3.0], [0, 1.5, 3.0], [0.5, 1.0], [0, 0.6, 1.2, 1.8], [-0.2, 0.4, 1.0]],
           [[0, 1.5, 3.0], [0, 1.5, 3.0], [0, 0.6, 1.2, 1.8], [0, 0.6, 1.2, 1.8], [0, 0.4, 0.8, 1.2]],
           [[0, 3, 6], [0, 3, 6], [0, 1.5, 3.0], [0, 1.5, 3.0], [0, 1.5]],
           [[0, 3, 6], [0, 3, 6], [0, 3, 6], [0, 3, 6], [0, 1.5, 3.0]],
           [[0, 6, 12], [0, 6, 12], [0, 3, 6], [0, 6, 12], [0, 30, 60]]]
y_digits = [[1, 1, 1, 1, 1], [1, 1, 1, 1, 1], [0, 0, 1, 1, 1], [0, 0, 0, 0, 1], [0, 0, 0, 0, 0]]

# page layout in pixels
FW, FH = 949, 632
COL_X = [110, 280, 453, 623, 795]
COL_W = [142, 142, 140, 144, 146]
ROW_Y = [63, 175, 288, 401, 514]
ROW_H = [92, 92, 91, 90, 91]
BG = '#f4f8ec'
ARROW_GREEN = '#9bbb59'
INK = '#1a1a1a'

plt.rcParams['mathtext.fontset'] = 'cm'
plt.rcParams['font.family'] = ['DejaVu Sans']
plt.rcParams['axes.linewidth'] = 0.8
plt.rcParams['axes.edgecolor'] = '#333333'


def fmt(digits):
    def f(v, pos):
        if abs(v) < 1e-9:
            v = 0.0
        return f'{v:.{digits}f}'.replace('-', '\u2212')
    return FuncFormatter(f)


def series(xs, ys):
    n = min(len(xs), len(ys))
    return xs[:n], ys[:n]


fig = plt.figure(figsize=(FW / 100, FH / 100), dpi=100, facecolor=BG)

for r in range(5):
    for c in range(5):
        key = (r, c)
        ax = fig.add_axes([COL_X[c] / FW, 1 - (ROW_Y[r] + ROW_H[r]) / FH,
                           COL_W[c] / FW, ROW_H[r] / FH])
        ax.set_facecolor(BG)
        xs = curve_grid[key]
        ax.plot(*series(xs, pw_curve[key]), color='k', lw=1.5, dashes=(4, 3))
        ax.plot(*series(xs, fit_offsh[key]), color='#ff0000', lw=1.5)
        ax.plot(*series(xs, max_offsh[key]), color='#0000ff', lw=1.5)
        ax.plot(*series(xs, no_offsh[key]), color='#008000', lw=1.5)
        n = min(len(data_cos[key]), len(data_val[key]), len(data_err[key]))
        ax.errorbar(data_cos[key][:n], data_val[key][:n], yerr=data_err[key][:n],
                    fmt='.', color='k', ms=3.5, ecolor='#808080', elinewidth=1.0,
                    capsize=2, capthick=1.0, zorder=5)

        if key in x_range:
            ax.set_xlim(*x_range[key])
            ax.xaxis.set_major_locator(MultipleLocator(0.4))
        else:
            ax.set_xlim(-1, 1)
            ax.xaxis.set_major_locator(FixedLocator([-1, 0, 1]))
        ax.xaxis.set_minor_locator(AutoMinorLocator(2))
        ax.xaxis.set_major_formatter(fmt(1))
        ax.set_ylim(*y_range[r][c])
        ax.yaxis.set_major_locator(FixedLocator(y_ticks[r][c]))
        ax.yaxis.set_minor_locator(AutoMinorLocator(3))
        ax.yaxis.set_major_formatter(fmt(y_digits[r][c]))
        ax.tick_params(which='both', direction='in', top=True, right=True,
                       length=3.5, width=0.7, labelsize=7.5, pad=2, colors='#222222')

        ax.text(0.02, 0.975, f'$W$={W_VALUES[r]} GeV, $p_s$ ={PS_VALUES[c]} MeV',
                transform=ax.transAxes, ha='left', va='top', fontsize=7.3, color='#222222')

        if key == (4, 4):
            handles = [Line2D([], [], color='k', lw=1.5, dashes=(4, 3)),
                       Line2D([], [], color='#ff0000', lw=1.5),
                       Line2D([], [], color='#0000ff', lw=1.5),
                       Line2D([], [], color='#008000', lw=1.5)]
            labels = ['PW', '+FSI fit offsh', '+FSI max offsh', '+FSI no offsh']
            leg = ax.legend(handles, labels, loc='upper left', bbox_to_anchor=(0.0, 0.87),
                            fontsize=7, frameon=True, fancybox=False, framealpha=1,
                            facecolor=BG, edgecolor='#222222', borderpad=0.4,
                            labelspacing=0.55, handlelength=2.0, borderaxespad=0)
            leg.get_frame().set_linewidth(0.8)

# axis titles
fig.text(77 / FW, 1 - 130 / FH, r'$F_{2\rm N}\ P(p_s\,,cos\theta_s\,)\cdot 10^2$',
         rotation=90, ha='center', va='center', fontsize=11)
fig.text(905 / FW, 1 - 624 / FH, r'$\cos\theta_s$', ha='center', va='center', fontsize=10)

# slide decorations: top rule, arrows and captions
fig.add_artist(Rectangle((0, 1 - 2 / FH), 1, 2 / FH, transform=fig.transFigure,
                         color='#f5b94b', lw=0))
fig.text(445 / FW, 1 - 16 / FH, r'increasing p$_{\mathregular{s}}$', ha='center', va='center',
         fontsize=17.5, family='Open Sans', weight='light', color=INK)
fig.add_artist(Rectangle((300 / FW, 1 - 45.5 / FH), 337 / FW, 5 / FH,
                         transform=fig.transFigure, color=ARROW_GREEN, lw=0))
fig.add_artist(Polygon([(636 / FW, 1 - 30 / FH), (636 / FW, 1 - 56 / FH), (665 / FW, 1 - 43 / FH)],
                       closed=True, transform=fig.transFigure, color='k', lw=0))

fig.text(20 / FW, 1 - 355 / FH, 'increasing invariant mass of X', rotation=90,
         ha='center', va='center', fontsize=18, family='Open Sans', weight='light', color=INK)
fig.add_artist(Rectangle((34.5 / FW, 1 - 580 / FH), 5 / FW, 408 / FH,
                         transform=fig.transFigure, color=ARROW_GREEN, lw=0))
fig.add_artist(Polygon([(28 / FW, 1 - 578 / FH), (46 / FW, 1 - 578 / FH), (37 / FW, 1 - 598 / FH)],
                       closed=True, transform=fig.transFigure, color='k', lw=0))

fig.savefig('out.png', dpi=100, facecolor=BG)
